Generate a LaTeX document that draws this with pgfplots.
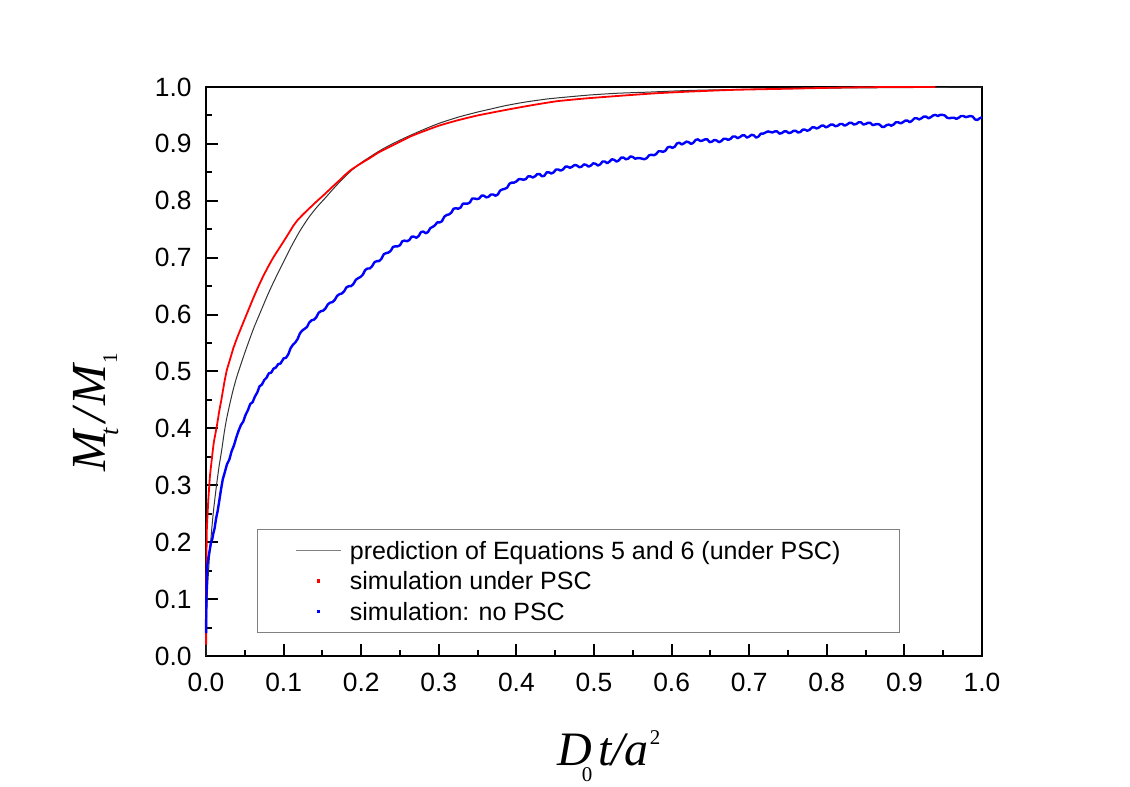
\documentclass[border=0pt]{standalone}
\usepackage{fontspec}
\setmainfont{Liberation Sans}
\newfontfamily\lserif{Liberation Serif}
\usepackage{pgfplots}
\pgfplotsset{compat=1.18}
\begin{document}
\begin{tikzpicture}
\begin{axis}[
  scale only axis, width=388pt, height=284.5pt,
  xmin=0, xmax=1, ymin=0, ymax=1,
  xtick={0,0.1,0.2,0.3,0.4,0.5,0.6,0.7,0.8,0.9,1.0},
  ytick={0,0.1,0.2,0.3,0.4,0.5,0.6,0.7,0.8,0.9,1.0},
  minor x tick num=1, minor y tick num=1,
  tick align=inside, tick pos=left,
  major tick length=6pt, minor tick length=3pt,
  every tick/.style={black, line width=1pt},
  axis line style={line width=1pt},
  ticklabel style={font=\fontsize{13.2}{15}\selectfont, /pgf/number format/fixed, /pgf/number format/fixed zerofill, /pgf/number format/precision=1, /pgf/number format/assume math mode=true},
  xticklabel style={anchor=north, inner sep=0pt, yshift=-8.5pt},
  yticklabel style={anchor=east, inner sep=0pt, xshift=-7pt},
  xlabel={{\lserif\fontsize{24}{26}\selectfont\itshape D\kern-5pt\raisebox{-8pt}{\upshape\fontsize{10.5}{11}\selectfont 0}\kern3pt t/a\kern0.5pt\raisebox{10.5pt}{\upshape\fontsize{10.5}{11}\selectfont 2}}},
  xlabel style={at={(rel axis cs:0.519,-0.1916)}, anchor=base, inner sep=0pt},
  ylabel={{\lserif\fontsize{24.5}{26}\selectfont\itshape M\kern-2pt\raisebox{-6.5pt}{\fontsize{13}{13}\selectfont t}\kern2.5pt/\kern2pt M\kern0.5pt\raisebox{-6pt}{\upshape\fontsize{10.5}{11}\selectfont 1}}},
  ylabel style={at={(rel axis cs:-0.130,0.428)}, anchor=base, rotate=0, inner sep=0pt},
  clip=false,
  legend cell align=left,
  legend style={at={(rel axis cs:0.0657,0.2232)}, anchor=north west, draw=gray, line width=0.5pt,
    font=\fontsize{12.5}{14}\selectfont, inner xsep=19pt, inner ysep=6pt, row sep=6.25pt, column sep=4pt,
    nodes={inner sep=0pt, text height=9pt, text depth=0pt}},
]
\addplot[black!80, line width=0.5pt, smooth, tension=0.4,
  legend image code/.code={\draw[black!50, line width=0.7pt] (0pt,0pt) -- (22.5pt,0pt);}]
coordinates {
(0,0) (0.0005,0.06) (0.001,0.085) (0.002,0.12) (0.0035,0.155) (0.005,0.185) (0.0075,0.225)
(0.010,0.26) (0.0138,0.303) (0.017,0.335) (0.020,0.36) (0.0235,0.393) (0.0267,0.418)
(0.031,0.445) (0.035,0.468) (0.0395,0.49) (0.0438,0.508) (0.050,0.533) (0.056,0.556)
(0.062,0.578) (0.070,0.604) (0.078,0.630) (0.0846,0.650) (0.092,0.671) (0.100,0.693)
(0.110,0.72) (0.121,0.747) (0.132,0.770) (0.143,0.789) (0.155,0.807) (0.164,0.821)
(0.175,0.837) (0.188,0.854) (0.200,0.867) (0.211,0.877) (0.225,0.889) (0.24,0.900)
(0.26,0.913) (0.28,0.925) (0.30,0.936) (0.325,0.947) (0.35,0.956) (0.366,0.961)
(0.385,0.967) (0.409,0.973) (0.44,0.979) (0.47,0.983) (0.495,0.986) (0.53,0.989)
(0.57,0.991) (0.624,0.994) (0.70,0.996) (0.80,0.998) (0.90,0.999) (1.0,1.0)
};
\addlegendentry{\makebox[256pt][l]{prediction of Equations 5 and 6 (under PSC)}}
\addplot[red, line width=0.9pt, smooth, tension=0.3,
  legend image code/.code={\fill[red, draw=none] (10.4pt,-0.85pt) rectangle (12.1pt,0.85pt); \path[draw=none, fill=none] (0pt,0pt) -- (22.5pt,0pt);}]
coordinates {
(0.0001,0.02) (0.0003,0.10) (0.0006,0.17) (0.001,0.22) (0.002,0.25) (0.003,0.275)
(0.005,0.315) (0.0073,0.344) (0.010,0.375) (0.0138,0.403) (0.017,0.43) (0.020,0.452)
(0.0235,0.48) (0.0267,0.502) (0.030,0.517) (0.035,0.54) (0.040,0.559) (0.048,0.586)
(0.054,0.606) (0.060,0.626) (0.067,0.648) (0.0739,0.668) (0.080,0.684) (0.087,0.701)
(0.095,0.718) (0.102,0.733) (0.108,0.746) (0.1125,0.756) (0.118,0.766) (0.125,0.776)
(0.1326,0.786) (0.1426,0.799) (0.150,0.808) (0.157,0.817) (0.164,0.826) (0.172,0.836)
(0.178,0.844) (0.1856,0.853) (0.193,0.860) (0.200,0.866) (0.211,0.875) (0.220,0.883)
(0.228,0.889) (0.237,0.895) (0.250,0.904) (0.265,0.914) (0.280,0.922) (0.300,0.932)
(0.323,0.941) (0.350,0.950) (0.3875,0.960) (0.42,0.968) (0.452,0.975) (0.49,0.980)
(0.538,0.985) (0.58,0.989) (0.624,0.992) (0.68,0.995) (0.75,0.997) (0.82,0.999)
(0.88,1.0) (0.94,1.0)
};
\addlegendentry{simulation under PSC}
\addplot[blue, line width=1.2pt, line join=round,
  legend image code/.code={\fill[blue, draw=none] (10.4pt,-0.85pt) rectangle (12.1pt,0.85pt); \path[draw=none, fill=none] (0pt,0pt) -- (22.5pt,0pt);}]
coordinates {
(0.0001,0.04) (0.0003,0.08) (0.0006,0.11) (0.001,0.14) (0.0015,0.155) (0.002,0.163)
(0.003,0.172) (0.004,0.18) (0.005,0.188) (0.0065,0.200) (0.008,0.205) (0.0095,0.216)
(0.011,0.224) (0.013,0.242) (0.015,0.255) (0.017,0.272) (0.019,0.29) (0.0215,0.31)
(0.024,0.322) (0.027,0.337) (0.030,0.345) (0.033,0.360) (0.036,0.370) (0.039,0.384)
(0.042,0.396) (0.045,0.406) (0.048,0.412) (0.051,0.424) (0.054,0.432) (0.057,0.443)
(0.060,0.446) (0.063,0.456) (0.066,0.463) (0.069,0.474) (0.072,0.477) (0.075,0.485)
(0.078,0.489) (0.081,0.497) (0.084,0.498) (0.087,0.505) (0.090,0.507) (0.093,0.513)
(0.096,0.514) (0.100,0.523) (0.103,0.524) (0.106,0.530) (0.109,0.541) (0.112,0.547)
(0.115,0.551) (0.118,0.557) (0.121,0.567) (0.124,0.572) (0.127,0.575) (0.130,0.578)
(0.133,0.586) (0.136,0.590) (0.139,0.591) (0.142,0.595) (0.145,0.603) (0.148,0.606)
(0.151,0.607) (0.154,0.611) (0.157,0.618) (0.160,0.621) (0.163,0.622) (0.166,0.626)
(0.169,0.633) (0.172,0.636) (0.175,0.637) (0.178,0.641) (0.181,0.648) (0.184,0.650)
(0.187,0.650) (0.190,0.654) (0.193,0.661) (0.196,0.664) (0.199,0.666) (0.202,0.670)
(0.205,0.678) (0.208,0.681) (0.211,0.681) (0.214,0.685) (0.217,0.692) (0.220,0.694)
(0.223,0.694) (0.226,0.698) (0.229,0.706) (0.232,0.708) (0.235,0.709) (0.238,0.712)
(0.241,0.719) (0.244,0.720) (0.247,0.720) (0.250,0.722) (0.253,0.729) (0.256,0.730)
(0.259,0.729) (0.262,0.731) (0.265,0.737) (0.268,0.737) (0.271,0.735) (0.274,0.738)
(0.277,0.745) (0.280,0.746) (0.283,0.743) (0.286,0.745) (0.289,0.752) (0.292,0.754)
(0.295,0.757) (0.298,0.762) (0.301,0.762) (0.304,0.764) (0.307,0.772) (0.310,0.775)
(0.313,0.776) (0.316,0.779) (0.319,0.786) (0.322,0.787) (0.325,0.786) (0.328,0.788)
(0.331,0.795) (0.334,0.795) (0.337,0.795) (0.340,0.797) (0.343,0.804) (0.346,0.804)
(0.349,0.803) (0.352,0.804) (0.355,0.809) (0.358,0.809) (0.361,0.806) (0.364,0.807)
(0.367,0.811) (0.370,0.811) (0.373,0.809) (0.376,0.811) (0.379,0.818) (0.382,0.820)
(0.385,0.821) (0.388,0.823) (0.391,0.830) (0.394,0.832) (0.397,0.832) (0.400,0.834)
(0.403,0.838) (0.406,0.838) (0.409,0.837) (0.412,0.838) (0.415,0.843) (0.418,0.843)
(0.421,0.841) (0.424,0.843) (0.427,0.847) (0.430,0.847) (0.433,0.843) (0.436,0.844)
(0.439,0.850) (0.442,0.850) (0.445,0.848) (0.448,0.850) (0.451,0.855) (0.454,0.855)
(0.457,0.853) (0.460,0.855) (0.463,0.860) (0.466,0.860) (0.469,0.858) (0.472,0.860)
(0.475,0.863) (0.478,0.862) (0.481,0.859) (0.484,0.860) (0.487,0.864) (0.490,0.863)
(0.493,0.860) (0.496,0.862) (0.499,0.866) (0.502,0.865) (0.505,0.862) (0.508,0.864)
(0.511,0.869) (0.514,0.869) (0.517,0.866) (0.520,0.869) (0.523,0.873) (0.526,0.872)
(0.529,0.869) (0.532,0.871) (0.535,0.876) (0.538,0.876) (0.541,0.873) (0.544,0.874)
(0.547,0.878) (0.550,0.877) (0.553,0.874) (0.556,0.875) (0.559,0.875) (0.562,0.874)
(0.565,0.873) (0.568,0.875) (0.571,0.880) (0.574,0.881) (0.577,0.880) (0.580,0.882)
(0.583,0.887) (0.586,0.887) (0.589,0.886) (0.592,0.888) (0.595,0.894) (0.598,0.895)
(0.601,0.893) (0.604,0.895) (0.607,0.901) (0.610,0.902) (0.613,0.899) (0.616,0.901)
(0.619,0.904) (0.622,0.903) (0.625,0.900) (0.628,0.902) (0.631,0.907) (0.634,0.908)
(0.637,0.905) (0.640,0.906) (0.643,0.908) (0.646,0.908) (0.649,0.903) (0.652,0.904)
(0.655,0.907) (0.658,0.906) (0.661,0.903) (0.664,0.905) (0.667,0.909) (0.670,0.909)
(0.673,0.907) (0.676,0.909) (0.679,0.913) (0.682,0.913) (0.685,0.910) (0.688,0.912)
(0.691,0.915) (0.694,0.915) (0.697,0.911) (0.700,0.913) (0.703,0.916) (0.706,0.915)
(0.709,0.911) (0.712,0.913) (0.715,0.918) (0.718,0.918) (0.721,0.920) (0.724,0.922)
(0.727,0.921) (0.730,0.920) (0.733,0.922) (0.736,0.922) (0.739,0.918) (0.742,0.919)
(0.745,0.922) (0.748,0.922) (0.751,0.919) (0.754,0.920) (0.757,0.923) (0.760,0.923)
(0.763,0.920) (0.766,0.921) (0.769,0.925) (0.772,0.925) (0.775,0.923) (0.778,0.925)
(0.781,0.929) (0.784,0.929) (0.787,0.927) (0.790,0.929) (0.793,0.932) (0.796,0.932)
(0.799,0.929) (0.802,0.931) (0.805,0.934) (0.808,0.934) (0.811,0.931) (0.814,0.932)
(0.817,0.935) (0.820,0.935) (0.823,0.932) (0.826,0.934) (0.829,0.937) (0.832,0.937)
(0.835,0.934) (0.838,0.935) (0.841,0.938) (0.844,0.938) (0.847,0.934) (0.850,0.935)
(0.853,0.937) (0.856,0.937) (0.859,0.933) (0.862,0.934) (0.865,0.935) (0.868,0.934)
(0.871,0.930) (0.874,0.930) (0.877,0.933) (0.880,0.934) (0.883,0.932) (0.886,0.934)
(0.889,0.938) (0.892,0.938) (0.895,0.936) (0.898,0.938) (0.901,0.941) (0.904,0.941)
(0.907,0.938) (0.910,0.941) (0.913,0.945) (0.916,0.945) (0.919,0.943) (0.922,0.945)
(0.925,0.948) (0.928,0.948) (0.931,0.945) (0.934,0.947) (0.937,0.950) (0.940,0.951)
(0.943,0.949) (0.946,0.951) (0.949,0.951) (0.952,0.950) (0.955,0.946) (0.958,0.945)
(0.961,0.946) (0.964,0.946) (0.967,0.944) (0.970,0.946) (0.973,0.949) (0.976,0.949)
(0.979,0.947) (0.982,0.948) (0.985,0.949) (0.988,0.948) (0.991,0.943) (0.994,0.942)
(0.997,0.945) (1.000,0.947)
};
\addlegendentry{simulation: no PSC}
\coordinate (bbl) at (rel axis cs:-0.2655,-0.2302);
\coordinate (btr) at (rel axis cs:1.1907,1.1529);
\end{axis}
\path (bbl) rectangle (btr);
\end{tikzpicture}
\end{document}
